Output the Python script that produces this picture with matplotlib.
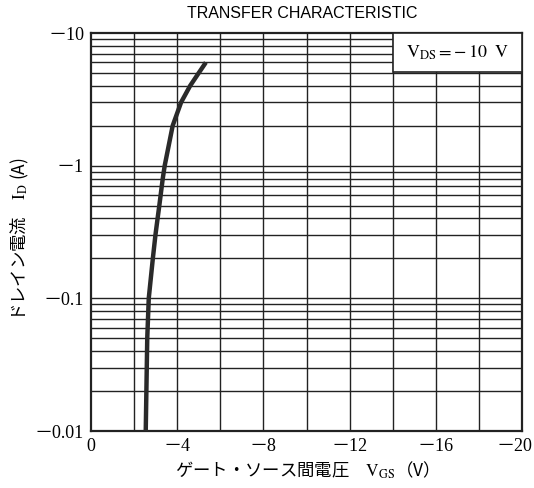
import numpy as np
import matplotlib
matplotlib.use("Agg")
import matplotlib.pyplot as plt
from matplotlib.patches import Rectangle
from matplotlib.transforms import ScaledTranslation

plt.rcParams["mathtext.fontset"] = "stix"

# Transfer characteristic, V_DS = -10 V
vgs = [-2.54, -2.57, -2.61, -2.68, -2.87, -2.99, -3.09, -3.17, -3.33, -3.42,
       -3.79, -4.18, -4.60, -5.00, -5.33]
id_a = [-0.01, -0.02, -0.05, -0.1, -0.2, -0.3, -0.4, -0.5, -0.8, -1.0,
        -2.0, -3.0, -4.0, -5.0, -6.0]

x_ticks = [0, -4, -8, -12, -16, -20]
x_tick_labels = ["0", "－4", "－8", "－12", "－16", "－20"]
y_ticks = [-0.01, -0.1, -1, -10]
y_tick_labels = ["－0.01", "－0.1", "－1", "－10"]

serif = ["Liberation Serif", "Noto Sans CJK JP"]
jp = ["Noto Sans CJK JP", "DejaVu Sans"]

fig = plt.figure(figsize=(5.34, 4.88), dpi=100)
ax = fig.add_axes([91 / 534, 57 / 488, 431 / 534, 398 / 488])

# plot magnitudes on a log axis, label with the negative values
ax.set_yscale("log")
ax.set_xlim(0, 20)
ax.set_ylim(0.01, 10)

# grid: every 2 V, and 1..9 per decade
for v in range(2, 20, 2):
    ax.axvline(v, color="#222222", lw=1.0, zorder=1)
for dec in [0.01, 0.1, 1]:
    for m in range(2, 10):
        ax.axhline(dec * m, color="#222222", lw=1.0, zorder=1)
for dec in [0.1, 1]:
    ax.axhline(dec, color="#222222", lw=1.0, zorder=1)

ax.plot(-np.array(vgs), -np.array(id_a), color="#2a2a2a", lw=3.2,
        solid_capstyle="butt", solid_joinstyle="round", zorder=3)

# condition box in the upper right
ax.add_patch(Rectangle((14, 5.1), 6, 10 - 5.1, facecolor="white",
                       edgecolor="#222222", lw=1.2, zorder=4))
ax.text(17, 10 ** ((1 + np.log10(5.1)) / 2),
        r"$\mathrm{V_{DS}=-\,10\ \ V}$",
        ha="center", va="center", fontsize=13, zorder=5)

ax.set_xticks([-v for v in x_ticks])
ax.set_xticklabels(x_tick_labels, family=serif, fontsize=13)
ax.set_yticks([-v for v in y_ticks])
ax.set_yticklabels(y_tick_labels, family=serif, fontsize=13)
ax.yaxis.set_minor_locator(matplotlib.ticker.NullLocator())
ax.tick_params(length=0, pad=5)
# keep the last x label inside the figure
ax.get_xticklabels()[-1].set_transform(
    ax.get_xticklabels()[-1].get_transform()
    + ScaledTranslation(-8 / 100, 0, fig.dpi_scale_trans))

for s in ax.spines.values():
    s.set_linewidth(1.6)
    s.set_color("#222222")

fig.text(0.566, 0.972, "TRANSFER CHARACTERISTIC", ha="center", va="center",
         fontsize=11.5, family="Liberation Sans")

fig.text(0.566, 0.037, r"ゲート・ソース間電圧　$\mathrm{V_{GS}}$（V）",
         ha="center", va="center", fontsize=12.5, family=jp)
fig.text(0.038, 0.51, r"ドレイン電流　$\mathrm{I_D}$ (A)", rotation=90,
         ha="center", va="center", fontsize=12.5, family=jp)

fig.savefig("out.png", dpi=100)
